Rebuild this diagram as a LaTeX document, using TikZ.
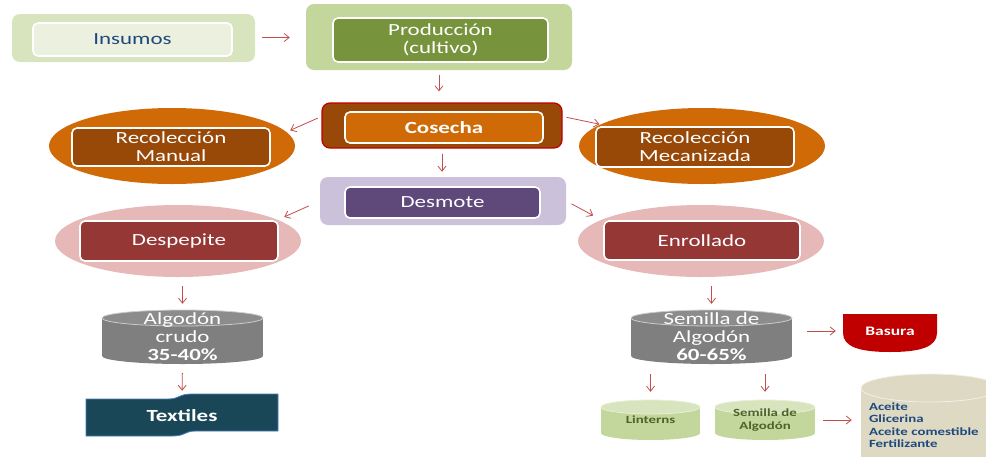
\documentclass[tikz,border=0pt]{standalone}
\usepackage{fontspec}
\setmainfont{Carlito}[FakeStretch=1.35]
\usetikzlibrary{shapes.geometric,arrows.meta,backgrounds}

\definecolor{verdeclaro}{HTML}{D7E4BD}
\definecolor{verdepalido}{HTML}{EBF1DE}
\definecolor{verdemedio}{HTML}{C3D69B}
\definecolor{verdeoscuro}{HTML}{77933C}
\definecolor{azultexto}{HTML}{1F497D}
\definecolor{naranja}{HTML}{CF6A06}
\definecolor{cafe}{HTML}{984807}
\definecolor{rojoborde}{HTML}{C00000}
\definecolor{lila}{HTML}{CCC1DA}
\definecolor{morado}{HTML}{5F497A}
\definecolor{rosa}{HTML}{E6B9B8}
\definecolor{vino}{HTML}{953735}
\definecolor{gris}{HTML}{7F7F7F}
\definecolor{grisclaro}{HTML}{8C8C8C}
\definecolor{beige}{HTML}{DDD9C3}
\definecolor{petroleo}{HTML}{1A4757}
\definecolor{bordeazul}{HTML}{4A7EBB}
\definecolor{flechacol}{HTML}{C0504D}
\definecolor{olivo}{HTML}{4F6228}

% cylinder behind a named node: node, half width, half height, cap radius, body, cap
\newcommand{\tambor}[6]{%
  \begin{scope}[on background layer, shift={(#1.center)}]
    \fill[#5] (-#2,-#3+#4) rectangle (#2,#3-#4);
    \fill[#5] (0,#3-#4) ellipse [x radius=#2pt, y radius=#4pt];
    \filldraw[fill=#6, draw=white!60!#5, line width=0.8pt] (0,-#3+#4) ellipse [x radius=#2pt, y radius=#4pt];
  \end{scope}}

\tikzset{
  letra/.style={font=\fontsize{17}{18}\selectfont},
  chica/.style={font=\fontsize{11}{12.5}\selectfont\bfseries},
}

\begin{document}
\begin{tikzpicture}[x=1pt,y=-1pt,
    fondo/.style={rounded corners=8pt, inner sep=0pt},
    caja/.style={rounded corners=5pt, draw=white, line width=1.6pt, inner sep=0pt, text=white, align=center, letra},
    ovalo/.style={ellipse, inner sep=0pt, minimum width=246pt},
    forma/.style={inner sep=0pt, align=center},
    flecha/.style={draw=flechacol, line width=0.8pt, -{Straight Barb[length=5pt,width=8pt]}}]
    \useasboundingbox (0,0) rectangle (986,456);

    % Draw the top row
    \node[fondo, fill=verdeclaro, minimum width=243pt, minimum height=48pt] (insumosfondo) at (133.5,38) {};
    \node[caja, fill=verdepalido, text=azultexto, minimum width=199pt, minimum height=33pt] (insumos) at (132.5,39.5) {Insumos};
    \node[fondo, fill=verdemedio, minimum width=266pt, minimum height=66pt] (produccionfondo) at (439,37) {};
    \node[caja, fill=verdeoscuro, minimum width=215pt, minimum height=44pt] (produccion) at (440.5,40) {Producción\\(cultivo)};

    % Draw the harvest row
    \node[fondo, fill=cafe, draw=rojoborde, line width=1.2pt, minimum width=240pt, minimum height=45pt] (cosechafondo) at (442,125.5) {};
    \node[caja, fill=naranja, minimum width=198pt, minimum height=31pt] (cosecha) at (444,127.5) {\textbf{Cosecha}};
    \node[ovalo, fill=naranja, minimum height=76pt] (manualfondo) at (172,146) {};
    \node[caja, fill=cafe, minimum width=198pt, minimum height=38pt] (manual) at (171,147) {Recolección\\Manual};
    \node[ovalo, fill=naranja, minimum height=76pt] (mecanizadafondo) at (702,146) {};
    \node[caja, fill=cafe, minimum width=198pt, minimum height=40pt] (mecanizada) at (695,147) {Recolección\\Mecanizada};

    % Draw the ginning row
    \node[fondo, fill=lila, minimum width=246pt, minimum height=48pt] (desmotefondo) at (443,201) {};
    \node[caja, fill=morado, minimum width=195pt, minimum height=31pt] (desmote) at (442.5,202.5) {Desmote};
    \node[ovalo, fill=rosa, minimum height=72pt] (despepitefondo) at (178,241) {};
    \node[caja, fill=vino, minimum width=198pt, minimum height=40pt] (despepite) at (179,241) {Despepite};
    \node[ovalo, fill=rosa, minimum height=72pt] (enrolladofondo) at (701,241) {};
    \node[caja, fill=vino, minimum width=196pt, minimum height=39pt] (enrollado) at (702,240.5) {Enrollado};

    % Draw the products
    \node[forma, letra, text=white, minimum width=161pt, minimum height=54pt] (crudo) at (182.5,337) {Algodón\\crudo\\\textbf{35-40\%}};
    \tambor{crudo}{80.5}{27}{8}{gris}{grisclaro}
    \node[forma, letra, text=white, minimum width=192pt, minimum height=40pt] (textiles) at (182,416) {\textbf{Textiles}};
    \begin{scope}[on background layer, shift={(textiles.center)}]
        \filldraw[fill=petroleo, draw=bordeazul, line width=0.8pt] (-96,-17) -- (-14,-17) .. controls (-2,-17) and (-4,-22) .. (10,-22) -- (96,-22) -- (96,15) -- (14,15) .. controls (2,15) and (4,20) .. (-10,20) -- (-96,20) -- cycle;
    \end{scope}
    \node[forma, letra, text=white, minimum width=161pt, minimum height=54pt] (semilla) at (711.5,337) {Semilla de\\Algodón\\\textbf{60-65\%}};
    \tambor{semilla}{80.5}{27}{8}{gris}{grisclaro}
    \node[forma, text=white, font=\fontsize{13}{14}\selectfont\bfseries, minimum width=94pt, minimum height=38pt] (basura) at (890,331) {Basura};
    \begin{scope}[on background layer, shift={(basura.center)}]
        \fill[rojoborde] (-47,-17) -- (47,-17) -- (47,2) .. controls (47,16) and (30,21) .. (0,21) .. controls (-30,21) and (-47,16) .. (-47,2) -- cycle;
    \end{scope}
    \node[forma, chica, text=olivo, minimum width=99pt, minimum height=40pt] (linterns) at (650.5,420) {Linterns};
    \tambor{linterns}{49.5}{20}{7}{verdemedio}{verdeclaro}
    \node[forma, chica, text=olivo, minimum width=100pt, minimum height=40pt] (semilla2) at (765,420) {Semilla de\\Algodón};
    \tambor{semilla2}{50}{20}{7}{verdemedio}{verdeclaro}
    \node[forma, chica, text=azultexto, align=left, text width=122pt, minimum width=138pt, minimum height=102pt] (usos) at (930,425) {Aceite\\Glicerina\\Aceite comestible\\Fertilizante};
    \tambor{usos}{69}{51}{14}{beige}{beige}

    % Draw the arrows
    \draw[flecha, shorten <=7pt, shorten >=16pt] (insumosfondo) -- (produccionfondo);
    \draw[flecha, shorten <=5pt, shorten >=11pt] (produccionfondo.south) -- (produccionfondo.south |- cosechafondo.north);
    \draw[flecha, shorten <=4pt, shorten >=4pt] ([yshift=9pt]cosechafondo.west) -- (manualfondo.7);
    \draw[flecha, shorten <=4pt, shorten >=1pt] ([yshift=9pt]cosechafondo.east) -- (mecanizadafondo.168);
    \draw[flecha, shorten <=5pt, shorten >=5pt] (cosechafondo.south) -- (cosechafondo.south |- desmotefondo.north);
    \draw[flecha, shorten <=12pt, shorten >=7pt] (desmotefondo.west) -- (despepitefondo.12);
    \draw[flecha, shorten <=6pt, shorten >=9pt] (desmotefondo.east) -- (enrolladofondo.168);
    \foreach \a/\b in {despepitefondo/crudo, enrolladofondo/semilla} {
        \draw[flecha, shorten <=9pt, shorten >=6pt] (\a.south -| \b.north) -- (\b.north);
    }
    \draw[flecha, shorten <=9pt, shorten >=5pt] (crudo.south) -- (textiles.north);
    \draw[flecha, shorten <=15pt, shorten >=7pt] (semilla.east |- basura.west) -- (basura.west);
    \foreach \b in {linterns, semilla2} {
        \draw[flecha, shorten <=10pt, shorten >=8pt] (semilla.south -| \b.north) -- (\b.north);
    }
    \draw[flecha, shorten <=8pt, shorten >=9pt] (semilla2.east) -- (semilla2.east -| usos.west);

\end{tikzpicture}
\end{document}
